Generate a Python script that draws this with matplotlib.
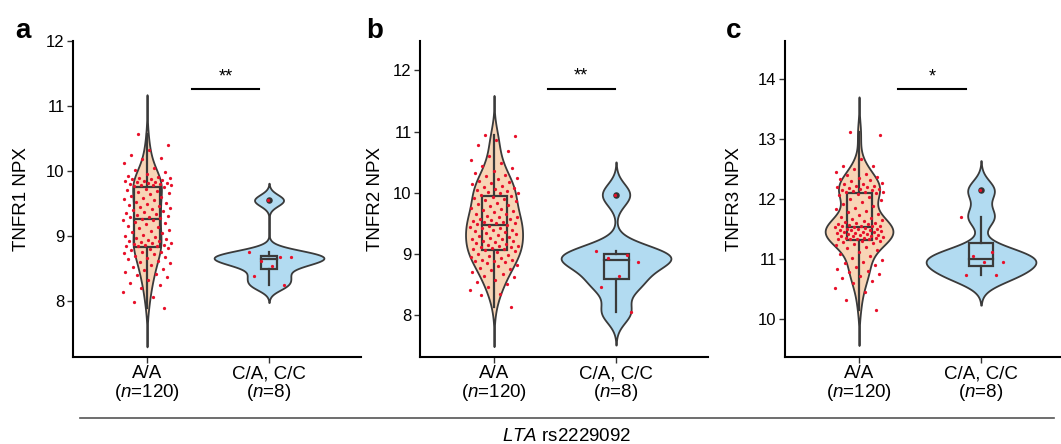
import numpy as np
import matplotlib
matplotlib.use("Agg")
import matplotlib.pyplot as plt
from matplotlib.patches import Rectangle
from matplotlib.lines import Line2D

plt.rcParams['font.family'] = ['Liberation Sans', 'DejaVu Sans']
plt.rcParams['mathtext.fontset'] = 'custom'
plt.rcParams['mathtext.it'] = 'Liberation Sans:italic'
plt.rcParams['mathtext.rm'] = 'Liberation Sans'

# ---------------- data ----------------
groups = ["A/A", "C/A, C/C"]
group_n = [120, 8]
panel_letters = ["a", "b", "c"]
ylabels = ["TNFR1 NPX", "TNFR2 NPX", "TNFR3 NPX"]
sig_labels = ["**", "**", "*"]

tnfr1_aa = [10.57, 10.40, 10.33, 10.24, 10.20, 10.18, 10.12, 10.05, 10.02, 9.99,
            9.96, 9.93, 9.91, 9.90, 9.89, 9.88, 9.87, 9.86, 9.85, 9.84,
            9.83, 9.83, 9.82, 9.81, 9.80, 9.80, 9.79, 9.78, 9.78, 9.77,
            9.75, 9.73, 9.71, 9.70, 9.68, 9.66, 9.64, 9.62, 9.60, 9.58,
            9.57, 9.55, 9.53, 9.51, 9.50, 9.48, 9.46, 9.45, 9.43, 9.41,
            9.40, 9.38, 9.37, 9.35, 9.34, 9.32, 9.31, 9.30, 9.29, 9.28,
            9.26, 9.25, 9.24, 9.22, 9.20, 9.18, 9.16, 9.14, 9.12, 9.10,
            9.08, 9.06, 9.04, 9.02, 9.00, 8.98, 8.97, 8.95, 8.94, 8.93,
            8.92, 8.91, 8.90, 8.89, 8.88, 8.87, 8.86, 8.85, 8.84, 8.84,
            8.82, 8.80, 8.78, 8.76, 8.75, 8.74, 8.72, 8.70, 8.68, 8.66,
            8.64, 8.62, 8.60, 8.58, 8.55, 8.52, 8.50, 8.48, 8.45, 8.42,
            8.40, 8.37, 8.33, 8.28, 8.25, 8.20, 8.14, 8.07, 7.98, 7.90]
tnfr1_cc = [9.55, 8.75, 8.68, 8.61, 8.68, 8.54, 8.38, 8.24]

tnfr2_aa = [10.95, 10.93, 10.87, 10.78, 10.68, 10.60, 10.54, 10.49, 10.44, 10.40,
            10.36, 10.33, 10.30, 10.27, 10.24, 10.22, 10.20, 10.18, 10.16, 10.14,
            10.12, 10.10, 10.08, 10.06, 10.05, 10.03, 10.02, 10.00, 9.99, 9.97,
            9.95, 9.93, 9.91, 9.90, 9.88, 9.86, 9.84, 9.82, 9.80, 9.78,
            9.76, 9.74, 9.72, 9.70, 9.68, 9.66, 9.65, 9.63, 9.61, 9.60,
            9.58, 9.57, 9.55, 9.54, 9.53, 9.52, 9.51, 9.50, 9.49, 9.48,
            9.46, 9.45, 9.43, 9.42, 9.40, 9.39, 9.37, 9.36, 9.34, 9.33,
            9.31, 9.30, 9.28, 9.27, 9.25, 9.24, 9.22, 9.21, 9.19, 9.18,
            9.16, 9.15, 9.14, 9.13, 9.12, 9.11, 9.10, 9.09, 9.08, 9.07,
            9.05, 9.03, 9.01, 8.99, 8.97, 8.95, 8.93, 8.91, 8.90, 8.89,
            8.88, 8.87, 8.85, 8.83, 8.80, 8.78, 8.76, 8.74, 8.71, 8.68,
            8.65, 8.62, 8.58, 8.55, 8.51, 8.47, 8.42, 8.35, 8.33, 8.13]
tnfr2_cc = [9.97, 9.05, 8.98, 8.93, 8.87, 8.64, 8.46, 8.05]

tnfr3_aa = [13.12, 13.08, 12.67, 12.56, 12.55, 12.50, 12.45, 12.42, 12.40, 12.38,
            12.36, 12.34, 12.32, 12.30, 12.28, 12.26, 12.25, 12.23, 12.22, 12.21,
            12.20, 12.19, 12.18, 12.17, 12.16, 12.15, 12.14, 12.13, 12.13, 12.12,
            12.11, 12.09, 12.07, 12.04, 12.01, 11.98, 11.95, 11.92, 11.89, 11.86,
            11.83, 11.80, 11.78, 11.75, 11.73, 11.71, 11.69, 11.67, 11.65, 11.63,
            11.62, 11.61, 11.60, 11.59, 11.58, 11.57, 11.56, 11.56, 11.55, 11.55,
            11.53, 11.53, 11.52, 11.51, 11.51, 11.50, 11.49, 11.48, 11.48, 11.47,
            11.46, 11.45, 11.45, 11.44, 11.43, 11.42, 11.42, 11.41, 11.40, 11.39,
            11.38, 11.38, 11.37, 11.36, 11.35, 11.35, 11.34, 11.34, 11.33, 11.33,
            11.31, 11.30, 11.29, 11.27, 11.25, 11.23, 11.21, 11.18, 11.15, 11.12,
            11.08, 11.05, 11.02, 10.99, 10.96, 10.93, 10.90, 10.87, 10.84, 10.81,
            10.78, 10.75, 10.72, 10.68, 10.64, 10.60, 10.52, 10.45, 10.32, 10.15]
tnfr3_cc = [12.15, 11.71, 11.12, 11.05, 10.95, 10.95, 10.73, 10.73]

panel_data = [(tnfr1_aa, tnfr1_cc), (tnfr2_aa, tnfr2_cc), (tnfr3_aa, tnfr3_cc)]
yticks_list = [[8, 9, 10, 11, 12], [8, 9, 10, 11, 12], [10, 11, 12, 13, 14]]

# ---------------- style / layout ----------------
W, H = 1061, 444
fills = ["#F8D5B6", "#B2DBF1"]
edge = "#3A3A3A"
point_color = "#E8102A"
ylims = [(7.14, 12.0), (7.32, 12.48), (9.37, 14.64)]
box_widths = [(0.22, 0.137), (0.205, 0.205), (0.205, 0.197)]
sig_pos = [(1.37, 1.92, 11.26), (1.44, 1.99, 11.70), (1.32, 1.88, 13.84)]
ax_lefts = [73, 420, 785]
ax_w = 288
ax_top, ax_bot = 41, 357
ylabel_x = [22, 375, 734.5]
letter_x = [15, 366, 726]


def bw_nrd0(x):
    x = np.asarray(x, float)
    sd = np.std(x, ddof=1)
    q75, q25 = np.percentile(x, [75, 25])
    lo = min(sd, (q75 - q25) / 1.34)
    if lo <= 0:
        lo = sd
    return 0.9 * lo * len(x) ** -0.2


def kde(x):
    x = np.asarray(x, float)
    bw = bw_nrd0(x)
    grid = np.linspace(x.min() - 3 * bw, x.max() + 3 * bw, 512)
    d = np.exp(-0.5 * ((grid[:, None] - x[None, :]) / bw) ** 2).sum(axis=1)
    d /= (len(x) * bw * np.sqrt(2 * np.pi))
    return grid, d


def jitter(n, width=0.2, phase=0.31):
    return (((np.arange(n) * 0.6180339887 + phase) % 1.0) * 2 - 1) * width


fig = plt.figure(figsize=(W / 100, H / 100), dpi=100)

for p in range(3):
    ax = fig.add_axes([ax_lefts[p] / W, (H - ax_bot) / H, ax_w / W, (ax_bot - ax_top) / H])
    data = panel_data[p]
    dens = [kde(g) for g in data]
    maxd = max(d.max() for _, d in dens)
    for gi, vals in enumerate(data):
        xc = gi + 1
        grid, d = dens[gi]
        hw = 0.45 * d / maxd
        ax.fill_betweenx(grid, xc - hw, xc + hw, facecolor=fills[gi],
                         edgecolor=edge, linewidth=1.3, zorder=1)
        v = np.asarray(vals, float)
        q1, med, q3 = np.percentile(v, [25, 50, 75])
        iqr = q3 - q1
        lo_w = v[v >= q1 - 1.5 * iqr].min()
        hi_w = v[v <= q3 + 1.5 * iqr].max()
        bw = box_widths[p][gi]
        ax.add_patch(Rectangle((xc - bw / 2, q1), bw, q3 - q1, facecolor="none",
                               edgecolor=edge, linewidth=1.6, zorder=2))
        ax.plot([xc - bw / 2, xc + bw / 2], [med, med], color=edge, lw=1.6, zorder=2)
        ax.plot([xc, xc], [q3, hi_w], color=edge, lw=1.6, zorder=2)
        ax.plot([xc, xc], [lo_w, q1], color=edge, lw=1.6, zorder=2)
        outl = v[(v < lo_w) | (v > hi_w)]
        if len(outl):
            ax.scatter(np.full(len(outl), xc), outl, s=22, color="#333333",
                       zorder=3, linewidths=0)
        ax.scatter(xc + jitter(len(v), 0.2, 0.31 + 0.17 * gi), v, s=5.5,
                   color=point_color, zorder=4, linewidths=0)

    x0, x1, ys = sig_pos[p]
    ax.plot([x0, x1], [ys, ys], color="black", lw=1.5, zorder=5)
    ax.text((x0 + x1) / 2, ys + (ylims[p][1] - ylims[p][0]) * 0.012, sig_labels[p],
            ha="center", va="bottom", fontsize=13)

    ax.set_xlim(0.393, 2.754)
    ax.set_ylim(*ylims[p])
    ax.set_yticks(yticks_list[p])
    ax.set_yticklabels([str(t) for t in yticks_list[p]], fontsize=12)
    ax.set_xticks([1, 2])
    ax.set_xticklabels([f"{groups[i]}\n($\\mathit{{n}}$={group_n[i]})" for i in range(2)],
                       fontsize=13.5, linespacing=1.0)
    ax.tick_params(axis="both", colors="#333333", length=4, width=1.0, pad=2)
    ax.tick_params(axis="x", labelcolor="black")
    ax.tick_params(axis="y", labelcolor="black")
    for s in ["top", "right"]:
        ax.spines[s].set_visible(False)
    ax.spines["left"].set_linewidth(1.5)
    ax.spines["bottom"].set_linewidth(1.5)
    ax.set_facecolor("none")

    fig.text(ylabel_x[p] / W, 1 - (ax_top + ax_bot) / 2 / H, ylabels[p], rotation=90,
             ha="center", va="center", fontsize=13.5)
    fig.text(letter_x[p] / W, 1 - 38 / H, panel_letters[p], ha="left", va="baseline",
             fontsize=20, fontweight="bold")

fig.add_artist(Line2D([80 / W, 1054 / W], [1 - 418 / H, 1 - 418 / H],
                      color="#555555", lw=1.2, transform=fig.transFigure))
fig.text(567 / W, 1 - 436 / H, "$\\mathit{LTA}$ rs2229092", ha="center", va="center",
         fontsize=13.5)

fig.savefig("out.png", dpi=100)
